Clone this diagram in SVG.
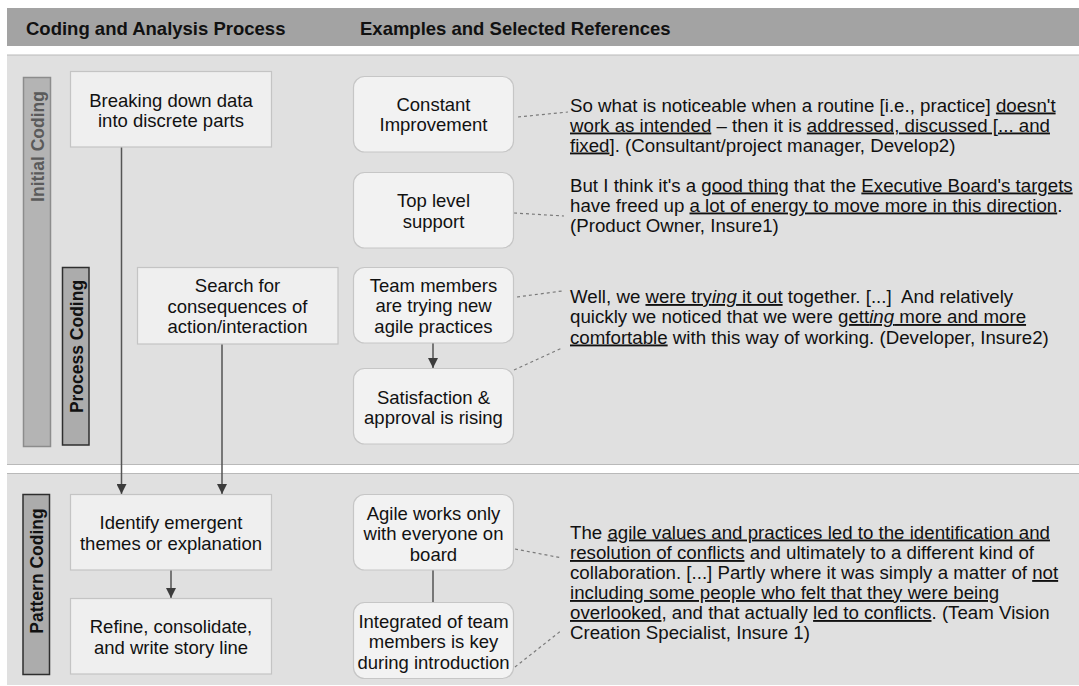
<svg xmlns="http://www.w3.org/2000/svg" width="1079" height="686" viewBox="0 0 1079 686">
  <defs>
    <marker id="arrow" viewBox="0 0 10 10" refX="10" refY="5" markerWidth="10" markerHeight="10" markerUnits="userSpaceOnUse" orient="auto">
      <path d="M0,0 L10,5 L0,10 z" fill="#3c3c3c"/>
    </marker>
    <style>
      text { font-family: "Liberation Sans", Arial, Helvetica, sans-serif; fill: #111; }
      .hdr { font-size: 18.5px; font-weight: bold; }
      .lbl { font-size: 17.5px; font-weight: bold; }
      .t { font-size: 18.5px; text-anchor: middle; }
      .q { font-size: 18.7px; }
      .u { text-decoration: underline; }
      .i { font-style: italic; }
      .panel { fill: #e0e0e0; stroke: none; }
      .edge { stroke: #b9b9b9; stroke-width: 1.2; fill: none; }
      .step { fill: #efefef; stroke: #c4c4c4; stroke-width: 1.2; }
      .ex { fill: #f2f2f2; stroke: #c6c6c6; stroke-width: 1.2; }
      .bar-light { fill: #b4b4b4; stroke: #8c8c8c; stroke-width: 1.5; }
      .bar-dark { fill: #acacac; stroke: #2e2e2e; stroke-width: 1.5; }
      .flow { stroke: #555; stroke-width: 1.5; fill: none; }
      .dash { stroke: #7a7a7a; stroke-width: 1.2; stroke-dasharray: 3 3; fill: none; }
    </style>
  </defs>

  <!-- header band -->
  <rect x="7" y="8" width="1072" height="38" fill="#a3a3a3"/>
  <text class="hdr" x="26" y="35">Coding and Analysis Process</text>
  <text class="hdr" x="360" y="35">Examples and Selected References</text>

  <!-- section panels -->
  <rect class="panel" x="7" y="55" width="1072" height="409.5"/>
  <line class="edge" x1="7" y1="55" x2="1079" y2="55"/>
  <line class="edge" x1="7" y1="464.5" x2="1079" y2="464.5"/>
  <rect class="panel" x="7" y="473.5" width="1072" height="211.5"/>
  <line class="edge" x1="7" y1="473.5" x2="1079" y2="473.5"/>

  <!-- phase bars -->
  <g id="initial-coding">
    <rect class="bar-light" x="23.5" y="77.5" width="27" height="369"/>
    <text class="lbl" transform="translate(43.5,146.5) rotate(-90)" text-anchor="middle" style="fill:#5a5a5a">Initial Coding</text>
  </g>
  <g id="process-coding">
    <rect class="bar-dark" x="62.5" y="267.5" width="26.5" height="177.5"/>
    <text class="lbl" transform="translate(82.5,346.5) rotate(-90)" text-anchor="middle">Process Coding</text>
  </g>
  <g id="pattern-coding">
    <rect class="bar-dark" x="23" y="494.5" width="26.5" height="180"/>
    <text class="lbl" transform="translate(43,571) rotate(-90)" text-anchor="middle">Pattern Coding</text>
  </g>

  <!-- connectors -->
  <g id="connectors">
    <line class="flow" x1="121.5" y1="147" x2="121.5" y2="494" marker-end="url(#arrow)"/>
    <line class="flow" x1="222" y1="344" x2="222" y2="494" marker-end="url(#arrow)"/>
    <line class="flow" x1="171" y1="570" x2="171" y2="598" marker-end="url(#arrow)"/>
    <line class="flow" x1="433" y1="343" x2="433" y2="368" marker-end="url(#arrow)"/>
    <line class="flow" x1="433" y1="570" x2="433" y2="602"/>
    <line class="dash" x1="518" y1="117" x2="568" y2="112"/>
    <line class="dash" x1="514" y1="213" x2="564" y2="216"/>
    <line class="dash" x1="517" y1="297" x2="562" y2="291"/>
    <line class="dash" x1="514" y1="370" x2="562" y2="348"/>
    <line class="dash" x1="515" y1="549" x2="562" y2="558"/>
    <line class="dash" x1="515" y1="667" x2="562" y2="630"/>
  </g>

  <!-- process steps -->
  <g id="breaking-down">
    <rect class="step" x="70.5" y="71.5" width="201" height="75.5"/>
    <text class="t" x="171" y="106.5">Breaking down data</text>
    <text class="t" x="171" y="127">into discrete parts</text>
  </g>
  <g id="search-consequences">
    <rect class="step" x="137.5" y="267.5" width="200.5" height="76.5"/>
    <text class="t" x="237.5" y="292">Search for</text>
    <text class="t" x="237.5" y="312.5">consequences of</text>
    <text class="t" x="237.5" y="333">action/interaction</text>
  </g>
  <g id="identify-themes">
    <rect class="step" x="70.5" y="494.5" width="201" height="75.5"/>
    <text class="t" x="171" y="529">Identify emergent</text>
    <text class="t" x="171" y="549.5">themes or explanation</text>
  </g>
  <g id="refine-story">
    <rect class="step" x="70.5" y="598.5" width="201" height="75.5"/>
    <text class="t" x="171" y="633">Refine, consolidate,</text>
    <text class="t" x="171" y="653.5">and write story line</text>
  </g>

  <!-- example themes -->
  <g id="constant-improvement">
    <rect class="ex" x="353.5" y="76.5" width="160" height="75.5" rx="11"/>
    <text class="t" x="433.5" y="110.5">Constant</text>
    <text class="t" x="433.5" y="131">Improvement</text>
  </g>
  <g id="top-level-support">
    <rect class="ex" x="353.5" y="172.5" width="160" height="75.5" rx="11"/>
    <text class="t" x="433.5" y="207">Top level</text>
    <text class="t" x="433.5" y="227.5">support</text>
  </g>
  <g id="trying-practices">
    <rect class="ex" x="353.5" y="267.5" width="160" height="75.5" rx="11"/>
    <text class="t" x="433.5" y="292">Team members</text>
    <text class="t" x="433.5" y="312">are trying new</text>
    <text class="t" x="433.5" y="332.5">agile practices</text>
  </g>
  <g id="satisfaction-rising">
    <rect class="ex" x="353.5" y="368.5" width="160" height="75.5" rx="11"/>
    <text class="t" x="433.5" y="403.5">Satisfaction &amp;</text>
    <text class="t" x="433.5" y="424">approval is rising</text>
  </g>
  <g id="everyone-on-board">
    <rect class="ex" x="353.5" y="494.5" width="160" height="75.5" rx="11"/>
    <text class="t" x="433.5" y="520">Agile works only</text>
    <text class="t" x="433.5" y="540">with everyone on</text>
    <text class="t" x="433.5" y="560.5">board</text>
  </g>
  <g id="integration-key">
    <rect class="ex" x="353.5" y="602.5" width="160" height="76" rx="11"/>
    <text class="t" x="433.5" y="628">Integrated of team</text>
    <text class="t" x="433.5" y="648">members is key</text>
    <text class="t" x="433.5" y="668.5">during introduction</text>
  </g>

  <!-- interview quotes -->
  <g id="quote-develop2">
    <text class="q" x="570" y="111.5">So what is noticeable when a routine [i.e., practice] <tspan class="u">doesn't</tspan></text>
    <text class="q" x="570" y="131.5"><tspan class="u">work as intended</tspan> – then it is <tspan class="u">addressed, discussed [... and</tspan></text>
    <text class="q" x="570" y="151.5"><tspan class="u">fixed</tspan>]. (Consultant/project manager, Develop2)</text>
  </g>
  <g id="quote-insure1-owner">
    <text class="q" x="570" y="191.5">But I think it's a <tspan class="u">good thing</tspan> that the <tspan class="u">Executive Board's targets</tspan></text>
    <text class="q" x="570" y="211.5">have freed up <tspan class="u">a lot of energy to move more in this direction</tspan>.</text>
    <text class="q" x="570" y="231.5">(Product Owner, Insure1)</text>
  </g>
  <g id="quote-insure2">
    <text class="q" x="570" y="303">Well, we <tspan class="u">were try<tspan class="i">ing</tspan> it out</tspan> together. [...]&#160; And relatively</text>
    <text class="q" x="570" y="323">quickly we noticed that we were <tspan class="u">gett<tspan class="i">ing</tspan> more and more</tspan></text>
    <text class="q" x="570" y="343.5"><tspan class="u">comfortable</tspan> with this way of working. (Developer, Insure2)</text>
  </g>
  <g id="quote-insure1-vision">
    <text class="q" x="570" y="538.5">The <tspan class="u">agile values and practices led to the identification and</tspan></text>
    <text class="q" x="570" y="559"><tspan class="u">resolution of conflicts</tspan> and ultimately to a different kind of</text>
    <text class="q" x="570" y="579">collaboration. [...] Partly where it was simply a matter of <tspan class="u">not</tspan></text>
    <text class="q" x="570" y="599"><tspan class="u">including some people who felt that they were being</tspan></text>
    <text class="q" x="570" y="619"><tspan class="u">overlooked</tspan>, and that actually <tspan class="u">led to conflicts</tspan>. (Team Vision</text>
    <text class="q" x="570" y="639">Creation Specialist, Insure 1)</text>
  </g>
</svg>
